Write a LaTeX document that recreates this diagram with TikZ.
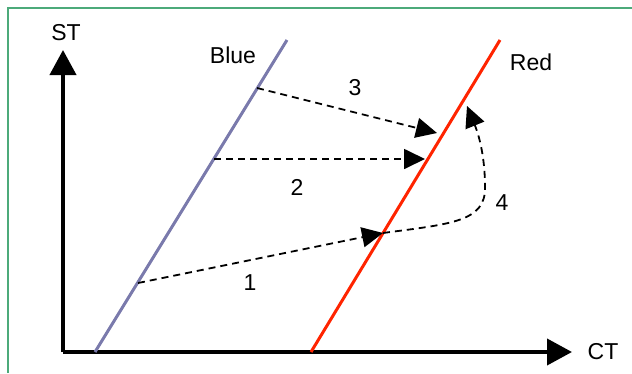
\documentclass[tikz,border=0pt]{standalone}
\usepackage{fontspec}
\setmainfont{Liberation Sans}
\usetikzlibrary{arrows.meta}
\definecolor{framegreen}{RGB}{76,170,122}
\definecolor{blueline}{RGB}{122,122,172}
\definecolor{redline}{RGB}{255,36,0}
\tikzset{
  frame/.style={
    draw=framegreen,
    line width=2.4pt
  },
  axis/.style={
    -{Triangle[length=25pt,width=26pt]},
    line width=4pt,
    draw=black
  },
  bluecurve/.style={
    draw=blueline,
    line width=3pt
  },
  redcurve/.style={
    draw=redline,
    line width=3pt
  },
  flow/.style={
    -{Triangle[length=21pt,width=20pt]},
    line width=1.8pt,
    dash pattern=on 7pt off 5pt,
    draw=black
  },
  lbl/.style={
    font=\fontsize{23}{27}\selectfont,
    inner sep=0pt
  }
}

\begin{document}
\begin{tikzpicture}[x=1pt,y=-1pt]
  \useasboundingbox (0,0) rectangle (632,373);
  \draw[frame] (8,373) -- (8,8) -- (632,8);

  % axes
  \coordinate (origin) at (63,352);
  \coordinate (ctend) at (572,352);
  \coordinate (stend) at (63,50);
  \draw[axis] (origin) -- (ctend);
  \draw[axis] (origin) -- (stend);
  \node[lbl] (ct) at (603,352) {CT};
  \node[lbl] (st) at (66,33) {ST};

  % lines
  \coordinate (b0) at (95,352);
  \coordinate (b1) at (287,40);
  \coordinate (r0) at (311,352);
  \coordinate (r1) at (500,40);
  \draw[bluecurve] (b0) -- (b1);
  \draw[redcurve] (r0) -- (r1);
  \node[lbl] (blue) at (233,55) {Blue};
  \node[lbl] (red) at (531,62) {Red};

  % moves
  \coordinate (s1) at (138,283);
  \coordinate (s2) at (214,159);
  \coordinate (s3) at (257,88);
  \coordinate (e1) at (383,233);
  \coordinate (e2) at (425,159);
  \coordinate (e3) at (437,133);
  \coordinate (e4) at (467,106);
  \coordinate (bend) at (485,187);
  \draw[flow] (s1) -- (e1);
  \draw[flow] (s2) -- (e2);
  \draw[flow] (s3) -- (e3);
  \draw[flow] (e1) .. controls (450,224) and (486,222) .. (bend)
    .. controls (485,150) and (476,128) .. (e4);
  \node[lbl] (n1) at (250,283) {1};
  \node[lbl] (n2) at (297,187) {2};
  \node[lbl] (n3) at (355,88) {3};
  \node[lbl] (n4) at (502,203) {4};
\end{tikzpicture}
\end{document}
